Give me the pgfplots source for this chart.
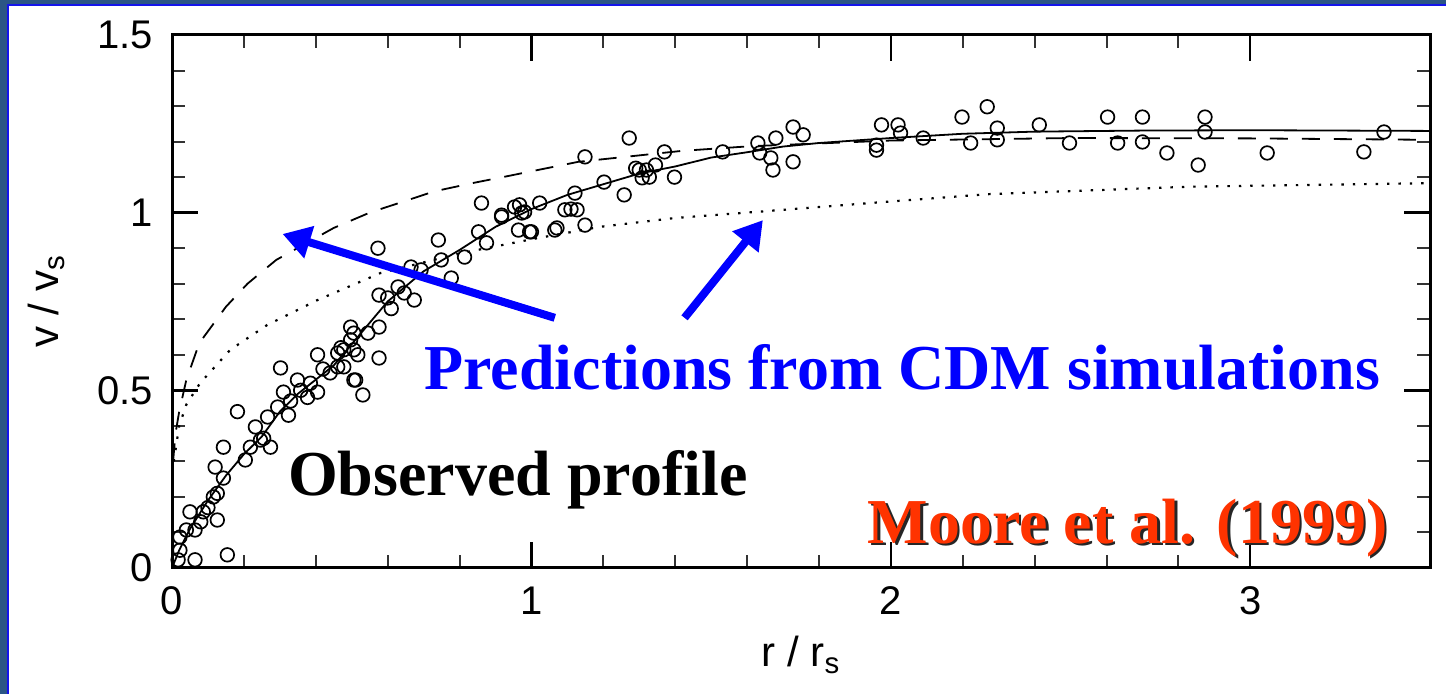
\documentclass[border=0pt]{standalone}
\usepackage{pgfplots}
\pgfplotsset{compat=1.18}
\usepackage{fontspec}
\setmainfont{Liberation Sans}
\newfontfamily\timesfont{Liberation Serif}
\usetikzlibrary{arrows.meta}
\definecolor{slateblue}{RGB}{43,85,133}
\definecolor{brightblue}{RGB}{20,20,235}
\definecolor{arrowblue}{RGB}{0,0,255}
\definecolor{moorered}{RGB}{255,51,0}

\begin{document}
\begin{tikzpicture}
\fill[slateblue] (0,0) rectangle (723pt,347pt);
\fill[brightblue] (3.5pt,0) rectangle (723pt,345pt);
\fill[white] (4.6pt,0) rectangle (723pt,344pt);
\begin{axis}[
  at={(86pt,63pt)}, anchor=south west,
  scale only axis, width=629pt, height=266.5pt,
  xmin=0, xmax=3.5, ymin=0, ymax=1.5,
  xtick={0,1,2,3}, ytick={0,0.5,1,1.5},
  minor x tick num=4, minor y tick num=4,
  major tick length=13pt, minor tick length=6.5pt,
  axis line style={line width=1.5pt},
  major tick style={line width=1.2pt, black},
  minor tick style={line width=1.0pt, black!80},
  tick label style={font=\fontsize{20}{24}\selectfont},
  /pgf/number format/assume math mode=true,
  yticklabel style={xshift=-6pt},
  xticklabel style={yshift=-6pt},
  xlabel={r\;/\;r\textsubscript{s}},
  ylabel={v\;/\;v\textsubscript{s}},
  label style={font=\fontsize{21}{25}\selectfont},
  xlabel style={at={(axis description cs:0.5,-0.163)}, anchor=center},
  ylabel style={at={(axis description cs:-0.1,0.5)}, anchor=center},
  clip mode=individual,
]
% observed fit (solid)
\addplot[black, line width=0.9pt] coordinates {
(0,0) (0.02,0.05) (0.05,0.11) (0.1,0.19) (0.15,0.26) (0.2,0.32) (0.25,0.37)
(0.3,0.44) (0.35,0.49) (0.4,0.53) (0.45,0.57) (0.5,0.63) (0.55,0.69) (0.6,0.75)
(0.7,0.835) (0.8,0.895) (0.9,0.96) (1.0,1.01) (1.1,1.05) (1.2,1.08) (1.3,1.11)
(1.4,1.13) (1.5,1.155) (1.6,1.17) (1.7,1.186) (1.8,1.196) (1.9,1.203) (2.0,1.21)
(2.2,1.222) (2.4,1.228) (2.7,1.231) (3.0,1.232) (3.5,1.23)
};
% CDM prediction (dashed)
\addplot[black, line width=0.9pt, dash pattern=on 9pt off 7pt] coordinates {
(0.003,0.30) (0.01,0.38) (0.02,0.44) (0.04,0.53) (0.076,0.633) (0.15,0.735)
(0.21,0.80) (0.29,0.867) (0.45,0.957) (0.55,1.0) (0.64,1.03) (0.73,1.06)
(0.84,1.084) (0.92,1.10) (1.13,1.143) (1.42,1.174) (1.61,1.187) (2.0,1.203)
(2.5,1.21) (3.0,1.209) (3.5,1.205)
};
% CDM prediction (dotted)
\addplot[black, line width=1.1pt, dash pattern=on 1.2pt off 4.5pt] coordinates {
(0.005,0.30) (0.02,0.40) (0.04,0.46) (0.078,0.52) (0.162,0.614) (0.265,0.684)
(0.405,0.754) (0.58,0.83) (0.8,0.885) (1.0,0.925) (1.19,0.96) (1.4,0.985)
(1.65,1.004) (1.98,1.03) (2.27,1.052) (2.83,1.073) (3.5,1.083)
};
% data points
\addplot[only marks, mark=o, mark size=3.4pt, mark options={line width=0.85pt, black}] coordinates {
(0.017,0.023) (0.064,0.023) (0.154,0.037) (0.022,0.050) (0.022,0.087) (0.040,0.107)
(0.064,0.107) (0.050,0.158) (0.087,0.158) (0.126,0.135) (0.115,0.200) (0.126,0.210)
(0.120,0.284) (0.143,0.253) (0.143,0.340) (0.182,0.440) (0.204,0.304) (0.218,0.340)
(0.232,0.397) (0.246,0.360) (0.274,0.340) (0.266,0.425) (0.294,0.453) (0.324,0.430)
(0.310,0.495) (0.302,0.563) (0.349,0.529) (0.358,0.500) (0.377,0.480) (0.405,0.495)
(0.405,0.600) (0.440,0.549) (0.461,0.605) (0.478,0.566) (0.497,0.642) (0.517,0.600)
(0.511,0.529) (0.531,0.487) (0.576,0.591) (0.545,0.661) (0.080,0.130) (0.100,0.170)
(0.255,0.365) (0.330,0.470) (0.385,0.520) (0.420,0.560) (0.470,0.620)
(0.573,0.900) (0.576,0.768) (0.629,0.791) (0.646,0.774) (0.674,0.754) (0.665,0.847)
(0.693,0.839) (0.741,0.923) (0.749,0.867) (0.777,0.816) (0.814,0.875) (0.853,0.946)
(0.875,0.915) (0.861,1.027) (0.917,0.988) (0.967,1.022) (0.973,0.999) (0.964,0.951)
(0.995,0.946) (1.023,1.027) (1.071,0.957) (1.093,1.008) (1.121,1.055) (1.127,1.008)
(0.506,0.661) (0.497,0.678) (0.576,0.678) (0.506,0.614) (0.478,0.614) (0.461,0.566)
(0.506,0.529) (0.610,0.730) (0.600,0.760) (0.953,1.016) (0.981,1.002) (1.110,1.010)
(0.917,0.993) (1.000,0.946) (1.065,0.951) (1.149,0.965) (1.202,1.086) (1.258,1.050)
(1.272,1.210) (1.300,1.120) (1.308,1.098) (1.328,1.100) (1.370,1.171) (1.345,1.134)
(1.398,1.100) (1.149,1.157) (1.290,1.125) (1.320,1.120)
(1.532,1.171) (1.630,1.196) (1.635,1.168) (1.666,1.154) (1.672,1.120) (1.680,1.210)
(1.728,1.241) (1.756,1.219) (1.728,1.143) (1.960,1.176) (1.974,1.247) (2.020,1.247)
(2.027,1.224) (2.090,1.210) (1.960,1.190)
(2.198,1.269) (2.268,1.298) (2.222,1.196) (2.296,1.238) (2.296,1.205) (2.413,1.247)
(2.497,1.196) (2.603,1.269) (2.631,1.196) (2.700,1.269) (2.700,1.199) (2.768,1.168)
(2.855,1.134) (2.874,1.269) (2.874,1.227) (3.047,1.168) (3.316,1.171) (3.372,1.227)
};
% arrows
\draw[arrowblue, line width=4pt, -{Triangle[length=14pt,width=16pt]}]
  (axis cs:1.065,0.704) -- (axis cs:0.3075,0.940);
\draw[arrowblue, line width=4pt, -{Triangle[length=14pt,width=16pt]}]
  (axis cs:1.426,0.704) -- (axis cs:1.644,0.979);
% annotations
\node[anchor=base, text=arrowblue, inner sep=0pt, font=\timesfont\bfseries\fontsize{32}{38}\selectfont]
  at (axis cs:2.032,0.501) {Predictions from CDM simulations};
\node[anchor=base, text=black, inner sep=0pt, font=\timesfont\bfseries\fontsize{32}{38}\selectfont]
  at (axis cs:0.962,0.203) {Observed profile};
\node[anchor=base, text=black!85, inner sep=0pt, font=\timesfont\bfseries\fontsize{32}{38}\selectfont]
  at ([xshift=1.2pt,yshift=-1.2pt]axis cs:2.659,0.070) {Moore et al. (1999)};
\node[anchor=base, text=moorered, inner sep=0pt, font=\timesfont\bfseries\fontsize{32}{38}\selectfont]
  at (axis cs:2.659,0.070) {Moore et al. (1999)};
\end{axis}
\pgfresetboundingbox
\path (0,0) rectangle (723pt,347pt);
\end{tikzpicture}
\end{document}
